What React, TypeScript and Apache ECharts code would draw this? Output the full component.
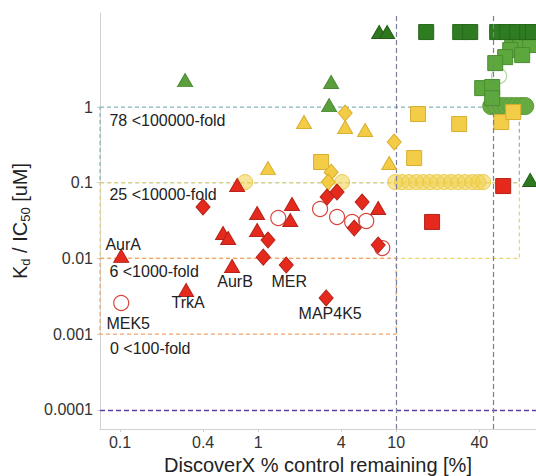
import React, { useEffect, useRef } from "react";
import * as echarts from "echarts";

// axis ranges (data units) and tick labels
const xRange = [0.0716, 103];
const yRange = [0.0000557, 17.5];
const xTicks = [0.1, 0.4, 1, 4, 10, 40];
const yTicks = [0.0001, 0.001, 0.01, 0.1, 1];

// points: [DiscoverX % control remaining, Kd/IC50 uM]
const darkGreenSquares = [[16.5, 9.8], [29.1, 9.8], [34.4, 9.8], [53.9, 9.8], [63.7, 9.8], [75.3, 9.8], [88.9, 9.8], [98, 9.8]];
const darkGreenTriangles = [[7.53, 9.8], [8.6, 9.8], [93.5, 0.109]];
const greenTriangles = [[0.296, 2.27], [3.38, 2.14], [3.27, 1.06]];
const greenSquares = [[69.3, 8.93], [79.2, 7.22], [93.5, 6.59], [67.0, 5.66], [81.8, 4.86], [61.6, 4.57], [52.2, 3.81], [42.0, 1.78], [49.6, 1.84], [49.6, 1.31]];
const greenCircles = [[48.8, 1.03], [53.1, 1.03], [57.7, 1.03], [62.7, 1.03], [68.1, 1.03], [74.1, 1.03], [80.5, 1.03], [86.1, 1.03]];
const greenOpenCircles = [[55.7, 2.57]];
const yellowTriangles = [[2.15, 0.634], [4.27, 0.544], [5.96, 0.497], [1.18, 0.156], [8.9, 0.182]];
const yellowDiamonds = [[4.27, 0.833], [9.68, 0.345], [3.38, 0.138], [3.22, 0.102]];
const yellowSquares = [[2.86, 0.188], [14.4, 0.809], [28.6, 0.596], [13.5, 0.212], [57.7, 0.634], [70.5, 0.859]];
const yellowCircles = [[0.805, 0.102], [4.06, 0.102], [9.84, 0.102], [11.0, 0.102], [12.4, 0.102], [14.0, 0.102], [15.7, 0.102], [17.6, 0.102], [19.8, 0.102], [22.3, 0.102], [25.0, 0.102], [28.1, 0.102], [31.6, 0.102], [35.6, 0.102], [39.3, 0.102], [42.7, 0.102]];
const redTriangles = [[0.102, 0.0108], [0.301, 0.00383], [0.648, 0.00794], [0.705, 0.0933], [0.984, 0.0398], [1.76, 0.0523], [1.71, 0.0321], [0.557, 0.0217], [0.607, 0.0186], [0.984, 0.0237], [7.41, 0.0463]];
const redDiamonds = [[0.399, 0.0478], [1.18, 0.0175], [1.09, 0.0104], [1.6, 0.00818], [3.11, 0.003], [3.16, 0.0647], [3.73, 0.0754], [5.67, 0.0556], [4.97, 0.0252], [7.41, 0.015]];
const redSquares = [[18.2, 0.0303], [59.6, 0.0904]];
const redCircles = [[0.102, 0.00258], [1.4, 0.0342], [2.81, 0.0449], [3.73, 0.0352], [4.8, 0.0303], [6.07, 0.0312], [7.93, 0.0137]];

// kinase names by series and point index
const redTriangleNames: Record<number, string> = { 0: "AurA", 1: "TrkA", 2: "AurB" };
const redDiamondNames: Record<number, string> = { 3: "MER", 4: "MAP4K5" };
const redCircleNames: Record<number, string> = { 0: "MEK5" };

// selectivity boxes
const boxTexts = ["78 <100000-fold", "25 <10000-fold", "6 <1000-fold", "0 <100-fold"];
const boxX = [78, 78, 10, 10];
const boxY = [[0.1, 1], [0.01, 0.1], [0.001, 0.01], [0.0001, 0.001]];
const refLinesX = [10, 50];
const refLineY = 0.0001;

const labelOffsets: Record<string, number[]> = {
  AurA: [2, -11], TrkA: [2, 13], AurB: [3, 16], MER: [3, 16], MAP4K5: [4, 16], MEK5: [7, 21],
};

const FONT = "Liberation Sans, Arial, Helvetica, sans-serif";
const L = (v: number) => Math.log10(v);

function scatter(name: string, arr: number[][], symbol: string, size: any, fill: string, border: string, bw: number, z: number, names?: Record<number, string>) {
  return {
    type: "scatter", name, symbol, symbolSize: size, z,
    itemStyle: { color: fill, borderColor: border, borderWidth: bw, opacity: 1 },
    emphasis: { disabled: true },
    silent: true,
    data: arr.map(([x, y], i) => {
      const n = names ? names[i] : undefined;
      if (!n) return [L(x), L(y)];
      return {
        value: [L(x), L(y)],
        label: { show: true, formatter: n, position: "inside", offset: labelOffsets[n], color: "#222", fontSize: 16, fontFamily: FONT },
      };
    }),
  };
}

function tickFmt(ticks: number[]) {
  return (v: number) => {
    const t = ticks.find((tt) => Math.abs(L(tt) - v) < 1e-6);
    return t === undefined ? "" : String(t);
  };
}

export default function App() {
  const ref = useRef<HTMLDivElement>(null);
  useEffect(() => {
    if (!ref.current) return;
    const chart = echarts.init(ref.current, null, { renderer: "svg" });
    const boxColors = ["#86b4bd", "#e9d46a", "#f0a46c", "transparent"];
    const xmin = L(xRange[0]);
    const boxes = boxTexts.map((t, i) => [
      {
        name: t,
        coord: [xmin, L(boxY[i][1])],
        itemStyle: { color: "transparent", borderColor: boxColors[i], borderWidth: i === 3 ? 0 : 1.2, borderType: [4, 3] },
        label: { show: true, position: "insideTopLeft", distance: 5, offset: [5, i === 1 ? -1 : 1], color: "#222", fontSize: 16, fontFamily: FONT },
      },
      { coord: [L(boxX[i]), L(boxY[i][0])] },
    ]);
    const helper = {
      type: "scatter", z: 1, symbolSize: 0, data: [[L(1), L(0.001)]], silent: true,
      markArea: { silent: true, data: boxes },
      markLine: {
        silent: true, symbol: "none", label: { show: false },
        data: [
          { yAxis: L(refLineY), lineStyle: { color: "#5b3fae", type: [5, 3], width: 1.3 } },
          ...refLinesX.map((v) => ({ xAxis: L(v), lineStyle: { color: "#7a7f9c", type: [5, 3], width: 1.2 } })),
        ],
      },
    };
    const option: any = {
      animation: false,
      grid: { left: 100, right: 0, top: 13, bottom: 47, containLabel: false, outerBoundsMode: "none" },
      xAxis: {
        type: "value", min: L(xRange[0]), max: L(xRange[1]),
        axisLine: { show: true, onZero: false, lineStyle: { color: "#d2d2d2", width: 1 } },
        axisTick: { show: true, customValues: xTicks.map(L), length: 3, lineStyle: { color: "#cfcfcf" } },
        axisLabel: { customValues: xTicks.map(L), formatter: tickFmt(xTicks), fontSize: 16, color: "#333", fontFamily: FONT, margin: 5 },
        splitLine: { show: false },
        name: "DiscoverX % control remaining [%]", nameLocation: "middle", nameGap: 24,
        nameTextStyle: { fontSize: 20, color: "#222", fontFamily: FONT },
      },
      yAxis: {
        type: "value", min: L(yRange[0]), max: L(yRange[1]),
        axisLine: { show: true, onZero: false, lineStyle: { color: "#d2d2d2", width: 1 } },
        axisTick: { show: true, customValues: yTicks.map(L), length: 3, lineStyle: { color: "#cfcfcf" } },
        axisLabel: { customValues: yTicks.map(L), formatter: tickFmt(yTicks), fontSize: 16, color: "#333", fontFamily: FONT, margin: 7 },
        splitLine: { show: false },
        name: "{k|K}{s|d}{k| / IC}{s|50}{k| [uM]}", nameLocation: "middle", nameGap: 68, nameRotate: 90,
        nameTextStyle: {
          fontSize: 20, color: "#222", fontFamily: FONT,
          rich: {
            k: { fontSize: 20, color: "#222", fontFamily: FONT, lineHeight: 24 },
            s: { fontSize: 13, color: "#222", fontFamily: FONT, verticalAlign: "bottom", lineHeight: 14 },
          },
        },
      },
      series: [
        helper,
        scatter("ycirc", yellowCircles, "circle", 15, "rgba(240,208,70,0.55)", "#ecc94a", 1, 3),
        scatter("gcirc", greenCircles, "circle", 17, "#66ab42", "#5c9c3a", 1, 3),
        scatter("gopen", greenOpenCircles, "circle", 15, "rgba(255,255,255,0.3)", "#b6d3a4", 1.2, 3),
        scatter("ysq", yellowSquares, "rect", 15, "#f3cc48", "#d7ae30", 1, 4),
        scatter("gsq", greenSquares, "rect", 15, "#5da83d", "#4a8c31", 1, 4),
        scatter("dgsq", darkGreenSquares, "rect", 15, "#2f7b21", "#256819", 1, 4),
        scatter("rsq", redSquares, "rect", 15, "#e6291d", "#b5231a", 1, 4),
        scatter("rcirc", redCircles, "circle", 15, "rgba(255,255,255,0.2)", "#d9473f", 1.2, 5, redCircleNames),
        scatter("ytri", yellowTriangles, "triangle", [15, 13], "#f3cb45", "#d8af30", 1, 5),
        scatter("ydia", yellowDiamonds, "diamond", [14, 16], "#f3cb45", "#d8af30", 1, 5),
        scatter("gtri", greenTriangles, "triangle", [15, 13], "#5b9f3c", "#4a8a30", 1, 5),
        scatter("dgtri", darkGreenTriangles, "triangle", [15, 13], "#2e7820", "#225e16", 1, 5),
        scatter("rdia", redDiamonds, "diamond", [14, 16], "#e6291d", "#b5231a", 1, 6, redDiamondNames),
        scatter("rtri", redTriangles, "triangle", [15, 13], "#e6291d", "#b5231a", 1, 6, redTriangleNames),
      ],
    };
    chart.setOption(option);
    return () => chart.dispose();
  }, []);
  return <div ref={ref} style={{ width: 536, height: 476, position: "absolute", left: 0, top: 0, background: "#fff" }} />;
}
